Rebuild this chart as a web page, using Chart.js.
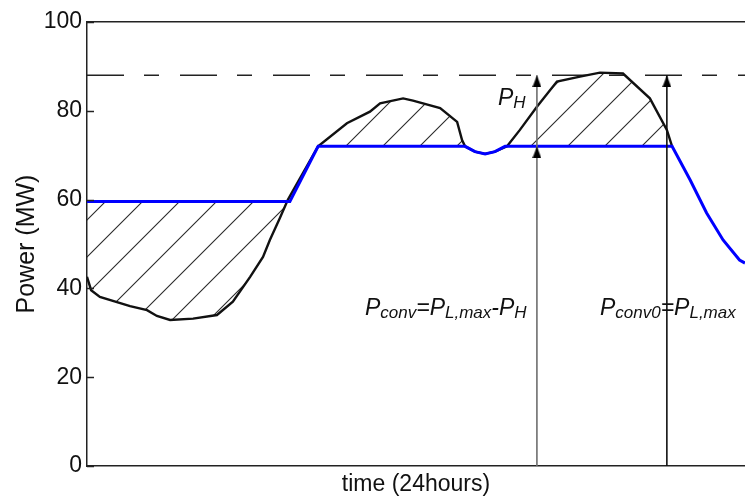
<!DOCTYPE html>
<html>
<head>
<meta charset="utf-8">
<script src="https://cdn.jsdelivr.net/npm/chart.js@4.4.0/dist/chart.umd.min.js"></script>
<style>
  html, body { margin: 0; padding: 0; background: #fff; overflow: hidden; }
  canvas { display: block; }
</style>
</head>
<body>
<canvas id="c" width="745" height="501"></canvas>
<script>
// Daily load profile (black) and conventional generation (blue), hours vs MW
const loadHours = [0, 0.15, 0.47, 1.57, 2.19, 2.55, 3.03, 3.87, 4.74, 5.32, 5.95, 6.42, 6.67, 7.04, 7.33,
  8.43, 9.48, 10.32, 10.69, 11.53, 11.89, 12.88, 13.5, 13.68, 13.79, 14.15, 14.52, 14.88, 15.32,
  15.79, 16.41, 17.14, 17.98, 18.71, 19.55, 20.53, 21.15, 21.34];
const loadMW = [42.6, 39.6, 38.1, 36.0, 35.1, 33.8, 32.9, 33.2, 34.0, 37.0, 42.6, 47.1, 50.9, 55.9, 60.0,
  72.0, 77.2, 79.8, 81.7, 82.8, 82.3, 80.6, 77.5, 73.4, 72.0, 70.8, 70.3, 70.8, 72.0,
  75.7, 80.9, 86.6, 87.7, 88.6, 88.4, 82.8, 75.7, 72.0];

const convHours = [0, 7.4, 8.43, 13.79, 14.15, 14.52, 14.88, 15.25, 21.34, 22.0, 22.6, 23.2, 23.8, 24];
const convMW = [59.6, 59.6, 72.0, 72.0, 70.8, 70.3, 70.8, 72.0, 72.0, 64.4, 57.0, 50.9, 46.4, 45.7];

// Reference levels
const peakLoadMW = 88;      // P_L,max
const convLevelMW = 72;     // P_conv
const arrowHours = [16.41, 21.15];

const yTicks = [0, 20, 40, 60, 80, 100];
const xTitle = 'time (24hours)';
const yTitle = 'Power (MW)';

// Text labels: each is a run of [text, isSubscript]
const labels = [
  { x: 14.99, y: 81.3, parts: [['P', 0], ['H', 1]] },
  { x: 10.14, y: 34.0, parts: [['P', 0], ['conv', 1], ['=', 0], ['P', 0], ['L,max', 1], ['-', 0], ['P', 0], ['H', 1]] },
  { x: 18.71, y: 34.0, parts: [['P', 0], ['conv0', 1], ['=', 0], ['P', 0], ['L,max', 1]] }
];

const FONT = '"Liberation Sans", Arial, sans-serif';

const pts = (xs, ys) => xs.map((x, i) => ({ x, y: ys[i] }));

// Diagonal hatch used for the storage areas
function hatchPattern(ctx) {
  const s = 37;
  const t = document.createElement('canvas');
  t.width = s; t.height = s;
  const g = t.getContext('2d');
  g.strokeStyle = '#2a2a2a';
  g.lineWidth = 1.1;
  g.beginPath();
  g.moveTo(0, s); g.lineTo(s, 0);
  g.moveTo(-2, 2); g.lineTo(2, -2);
  g.moveTo(s - 2, s + 2); g.lineTo(s + 2, s - 2);
  g.stroke();
  const p = ctx.createPattern(t, 'repeat');
  if (p.setTransform) p.setTransform(new DOMMatrix().translate(11, 0));
  return p;
}

// Upward arrow head whose tip sits at the centre of the image
function arrowHead(w, h, color) {
  const c = document.createElement('canvas');
  c.width = w; c.height = h * 2;
  const g = c.getContext('2d');
  g.fillStyle = color;
  g.beginPath();
  g.moveTo(w / 2, h); g.lineTo(w, 2 * h); g.lineTo(0, 2 * h); g.closePath();
  g.fill();
  return c;
}
const head = arrowHead(9, 12, '#000');

const innerTicks = {
  id: 'innerTicks',
  afterDraw(chart) {
    const { ctx, chartArea, scales: { y } } = chart;
    ctx.save();
    ctx.strokeStyle = '#222';
    ctx.lineWidth = 1.5;
    y.ticks.forEach(t => {
      const py = Math.round(y.getPixelForValue(t.value)) + 0.5;
      ctx.beginPath();
      ctx.moveTo(chartArea.left, py);
      ctx.lineTo(chartArea.left + 7, py);
      ctx.stroke();
    });
    ctx.restore();
  }
};

const textLabels = {
  id: 'textLabels',
  afterDatasetsDraw(chart) {
    const { ctx, scales: { x, y } } = chart;
    ctx.save();
    ctx.fillStyle = '#111';
    ctx.textBaseline = 'alphabetic';
    ctx.textAlign = 'left';
    labels.forEach(l => {
      let px = x.getPixelForValue(l.x);
      const py = y.getPixelForValue(l.y);
      l.parts.forEach(([txt, sub]) => {
        ctx.font = sub ? `italic 17px ${FONT}` : `italic 23px ${FONT}`;
        ctx.fillText(txt, px, py + (sub ? 3 : 0));
        px += ctx.measureText(txt).width;
      });
    });
    ctx.restore();
  }
};

const ctx = document.getElementById('c').getContext('2d');

new Chart(ctx, {
  type: 'line',
  data: {
    datasets: [
      {
        label: 'arrows',
        data: [{ x: arrowHours[0], y: 0 }, { x: arrowHours[0], y: convLevelMW }, { x: arrowHours[0], y: peakLoadMW }],
        borderColor: '#6e6e6e',
        borderWidth: 1.6,
        pointStyle: [head, head, head],
        pointRadius: [0, 6, 6],
        order: 0
      },
      {
        label: 'arrow0',
        data: [{ x: arrowHours[1], y: 0 }, { x: arrowHours[1], y: peakLoadMW }],
        borderColor: '#111',
        borderWidth: 1.6,
        pointStyle: [head, head],
        pointRadius: [0, 6],
        order: 0
      },
      {
        label: 'Conventional',
        data: pts(convHours, convMW),
        borderColor: '#0000ff',
        borderWidth: 3,
        pointRadius: 0,
        order: 1
      },
      {
        label: 'Load',
        data: pts(loadHours, loadMW),
        borderColor: '#111',
        borderWidth: 2.4,
        pointRadius: 0,
        fill: { target: 2 },
        backgroundColor: hatchPattern(ctx),
        order: 2
      },
      {
        label: 'Peak',
        data: [{ x: 0, y: peakLoadMW }, { x: 24, y: peakLoadMW }],
        borderColor: '#222',
        borderWidth: 1.6,
        borderDash: [37, 20, 15, 21],
        pointRadius: 0,
        order: 3
      }
    ]
  },
  options: {
    responsive: false,
    animation: false,
    events: [],
    layout: { autoPadding: false, padding: { top: 22, right: 0, left: 0, bottom: 0 } },
    plugins: { legend: { display: false }, tooltip: { enabled: false } },
    scales: {
      x: {
        type: 'linear',
        min: 0, max: 24,
        ticks: { display: false },
        grid: { display: false, drawTicks: false },
        border: { color: '#222', width: 1.5 },
        title: { display: true, text: xTitle, color: '#111', font: { family: FONT, size: 23 }, padding: { top: 0, bottom: 3 } },
        afterFit(s) { s.height = 35; }
      },
      x2: {
        type: 'linear',
        position: 'top',
        min: 0, max: 24,
        ticks: { display: false },
        grid: { display: false, drawTicks: false },
        border: { color: '#222', width: 1.5 },
        afterFit(s) { s.height = 0; }
      },
      y: {
        min: 0, max: 100,
        afterBuildTicks(s) { s.ticks = yTicks.map(v => ({ value: v })); },
        ticks: { color: '#111', font: { family: FONT, size: 23 }, padding: 5 },
        grid: { display: false, drawTicks: false },
        border: { color: '#222', width: 1.5 },
        title: { display: true, text: yTitle, color: '#111', font: { family: FONT, size: 25 }, padding: { top: 12, bottom: 0 } },
        afterFit(s) { s.width = 87; }
      }
    }
  },
  plugins: [innerTicks, textLabels]
});
</script>
</body>
</html>
